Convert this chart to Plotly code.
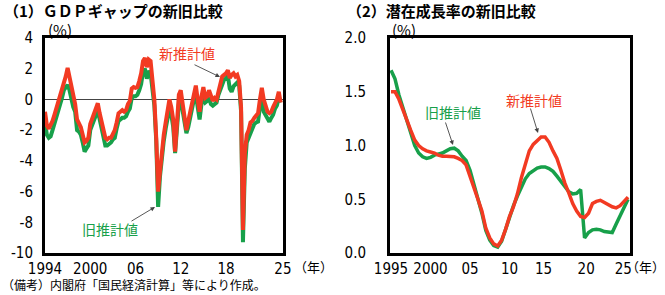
import numpy as np
import plotly.graph_objects as go

# (1) GDP gap, quarterly from 1994Q1 (%)
gap_new = [-0.8, -1.7, -1.9, -1.7, -1.4, -1.0, -0.6, -0.15, 0.4, 0.8,
           1.2, 1.5, 2.05, 1.5, 0.9, 0.2, -0.3, -1.3, -1.6, -1.8,
           -2.3, -2.8, -2.7, -2.5, -1.6, -1.3, -0.9, -0.6, -0.25, -0.9,
           -1.5, -2.2, -2.5, -2.6, -2.5, -2.5, -2.2, -2.0, -1.5, -0.9,
           -0.8, -0.7, -0.8, -0.7, -0.3, -0.1, 0.7, 0.8, 0.75, 0.8,
           1.2, 1.7, 2.5, 2.7, 2.1, 2.6, 2.5, 1.2, 0.0, -2.5,
           -6.0, -4.7, -3.2, -2.3, -1.5, -0.8, 0.0, -0.5, -1.3, -3.4,
           -1.0, 0.3, 0.6, -0.4, -1.2, -2.0, -1.4, -0.8, 0.0, 0.5,
           0.9, 0.0, -0.8, 0.2, 0.8, 0.1, 0.2, 0.6, 0.2, -0.1,
           0.1, 0.0, 0.5, 0.9, 1.5, 1.6, 1.7, 1.9, 1.4, 1.6,
           1.7, 1.5, 1.6, 1.2, -0.5, -8.5, -3.5, -2.3, -2.0, -1.5,
           -1.4, -1.2, -1.0, -0.9, 0.0, 0.75, 0.0, -0.4, -0.8, -0.9,
           -0.8, -0.5, -0.3, 0.0, 0.5, -0.2]
gap_old = [-1.5, -2.3, -2.5, -2.4, -2.0, -1.6, -1.2, -0.9, -0.4, 0.1,
           0.6, 0.8, 0.95, 0.6, 0.0, -0.5, -0.8, -2.0, -2.1, -2.3,
           -2.8, -3.4, -3.2, -3.0, -2.0, -1.7, -1.35, -1.0, -0.7, -1.3,
           -1.9, -2.7, -3.0, -3.0, -2.9, -2.8, -2.6, -2.5, -1.9, -1.4,
           -1.3, -1.2, -1.2, -1.1, -0.8, -0.6, 0.1, 0.2, 0.2, 0.3,
           0.6, 1.0, 1.8, 2.0, 1.35, 1.85, 1.7, 0.6, -0.4, -2.7,
           -7.0, -5.0, -3.5, -2.7, -1.9, -1.3, -0.6, -1.0, -1.8, -3.5,
           -1.5, -0.3, 0.0, -0.8, -1.6, -2.2, -1.8, -1.2, -0.4, 0.0,
           0.3, -0.4, -1.3, -0.3, 0.1, -0.2, -0.1, 0.1, -0.3, -0.4,
           -0.3, -0.2, 0.3, 0.7, 1.1, 1.3, 1.35, 1.55, 0.7, 0.5,
           0.85, 1.0, 1.1, 0.9, -0.8, -9.3, -4.5, -2.8, -2.5, -2.1,
           -1.9, -1.6, -1.5, -1.45, -0.5, 0.2, -0.8, -1.0, -1.2, -1.45,
           -1.2, -1.0, -0.6, -0.4, 0.1, -0.2]
gap_x = 1994 + np.arange(len(gap_new)) / 4
gap_ticks = [1994, 2000, 2006, 2012, 2018, 2025.55]
gap_ticktext = ["1994", "2000", "06", "12", "18", "25"]
gap_yticks = [4, 2, 0, -2, -4, -6, -8, -10]

# (2) potential growth rate, half-yearly from 1995 (%)
pot_new = [1.50, 1.50, 1.43, 1.33, 1.22, 1.14, 1.05, 1.00, 0.97, 0.95,
           0.94, 0.93, 0.91, 0.90, 0.90, 0.90, 0.895, 0.88, 0.86, 0.82,
           0.72, 0.60, 0.50, 0.39, 0.23, 0.14, 0.085, 0.065, 0.12, 0.22,
           0.34, 0.43, 0.55, 0.70, 0.84, 0.95, 1.01, 1.05, 1.08, 1.08,
           1.03, 0.95, 0.88, 0.77, 0.65, 0.56, 0.46, 0.39, 0.34, 0.33,
           0.37, 0.46, 0.48, 0.49, 0.47, 0.45, 0.43, 0.42, 0.44, 0.48,
           0.52]
pot_old = [1.70, 1.62, 1.47, 1.35, 1.22, 1.11, 1.00, 0.93, 0.895, 0.88,
           0.89, 0.91, 0.92, 0.93, 0.95, 0.97, 0.975, 0.95, 0.90, 0.86,
           0.77, 0.64, 0.50, 0.37, 0.21, 0.12, 0.07, 0.055, 0.11, 0.22,
           0.34, 0.44, 0.53, 0.62, 0.69, 0.74, 0.77, 0.79, 0.80, 0.80,
           0.785, 0.76, 0.715, 0.67, 0.62, 0.57, 0.55, 0.555, 0.59, 0.14,
           0.19, 0.215, 0.22, 0.215, 0.20, 0.195, 0.19, 0.27, 0.35, 0.43,
           0.50]
pot_x = 1995 + np.arange(len(pot_new)) / 2
# label spots as set in the original (slightly left of the year marks toward the end)
pot_ticks = [1995, 2000, 2005, 2010, 2014.3, 2019.7, 2024.4]
pot_ticktext = ["1995", "2000", "05", "10", "15", "20", "25"]
pot_yticks = [0.0, 0.5, 1.0, 1.5, 2.0]

RED = "#f23a22"
GREEN = "#17a04a"
JP = "Noto Sans CJK JP"
NUM = "Liberation Sans Narrow, DejaVu Sans Condensed, Roboto Condensed, sans-serif"
W, H = 665, 295


def px(x):
    return x / W


def py(y):
    return 1 - y / H


fig = go.Figure()
fig.add_trace(go.Scatter(x=gap_x, y=gap_old, mode="lines", line=dict(color=GREEN, width=4),
                         xaxis="x", yaxis="y", showlegend=False, hoverinfo="skip"))
fig.add_trace(go.Scatter(x=gap_x, y=gap_new, mode="lines", line=dict(color=RED, width=4),
                         xaxis="x", yaxis="y", showlegend=False, hoverinfo="skip"))
fig.add_trace(go.Scatter(x=pot_x, y=pot_old, mode="lines", line=dict(color=GREEN, width=3.5),
                         xaxis="x2", yaxis="y2", showlegend=False, hoverinfo="skip"))
fig.add_trace(go.Scatter(x=pot_x, y=pot_new, mode="lines", line=dict(color=RED, width=3.5),
                         xaxis="x2", yaxis="y2", showlegend=False, hoverinfo="skip"))

axis_common = dict(showline=True, linecolor="black", linewidth=3, mirror=True, automargin=False,
                   showgrid=False, ticks="", tickfont=dict(family=NUM, size=15, color="black"))

ydom = [py(253), py(38)]
fig.update_layout(
    width=W, height=H,
    margin=dict(l=0, r=0, t=0, b=0),
    paper_bgcolor="white", plot_bgcolor="white",
    xaxis=dict(domain=[px(45), px(283)], range=[1994, 2025.56], anchor="y",
               tickvals=gap_ticks, ticktext=gap_ticktext, zeroline=False, **axis_common),
    yaxis=dict(domain=ydom, range=[-10, 4], anchor="x",
               tickvals=gap_yticks, ticktext=[str(v) for v in gap_yticks],
               zeroline=True, zerolinecolor="#444", zerolinewidth=1, ticklabelstandoff=6,
               **axis_common),
    xaxis2=dict(domain=[px(390), px(630)], range=[1994.87, 2025.25], anchor="y2",
                tickvals=pot_ticks, ticktext=pot_ticktext, zeroline=False, **axis_common),
    yaxis2=dict(domain=ydom, range=[0, 2.0], anchor="x2",
                tickvals=pot_yticks, ticktext=["%.1f" % v for v in pot_yticks],
                zeroline=False, ticklabelstandoff=18, **axis_common),
)

texts = [
    ("（1）ＧＤＰギャップの新旧比較", 2, 11, "left", 15, "black", True),
    ("（2）潜在成長率の新旧比較", 345, 11, "left", 15, "black", True),
    ("(%)", 60, 30, "center", 15, "black", False),
    ("(%)", 404, 30, "center", 15, "black", False),
    ("（年）", 292, 266, "left", 13, "black", False),
    ("（年）", 667, 266, "right", 13, "black", False),
    ("（備考）内閣府「国民経済計算」等により作成。", 0, 284, "left", 12, "black", False),
    ("新推計値", 187, 53, "center", 14, RED, False),
    ("旧推計値", 110, 229, "center", 14, GREEN, False),
    ("旧推計値", 453, 112, "center", 14, GREEN, False),
    ("新推計値", 534, 100, "center", 14, RED, False),
]
for t, x, y, anchor, size, color, bold in texts:
    fig.add_annotation(text="<b>%s</b>" % t if bold else t, x=px(x), y=py(y),
                       xref="paper", yref="paper", xanchor=anchor, yanchor="middle",
                       showarrow=False, font=dict(family=JP, size=size, color=color))

# pointer arrows: (tail x, tail y, head x, head y) in pixels
arrows = [(193, 64, 220, 77), (130, 222, 155, 207), (445, 121, 453, 145), (530, 107, 538, 133)]
for x0, y0, x1, y1 in arrows:
    fig.add_annotation(text="", x=px(x1), y=py(y1), xref="paper", yref="paper",
                       ax=x0 - x1, ay=y0 - y1, axref="pixel", ayref="pixel",
                       showarrow=True, arrowhead=2, arrowsize=1, arrowwidth=0.9,
                       arrowcolor="#444")

# the page body has a default 8px margin; drop it so the figure sits at the window's corner
fig.write_html("out.html", config={"displayModeBar": False},
               post_script="document.body.style.margin='0';")
